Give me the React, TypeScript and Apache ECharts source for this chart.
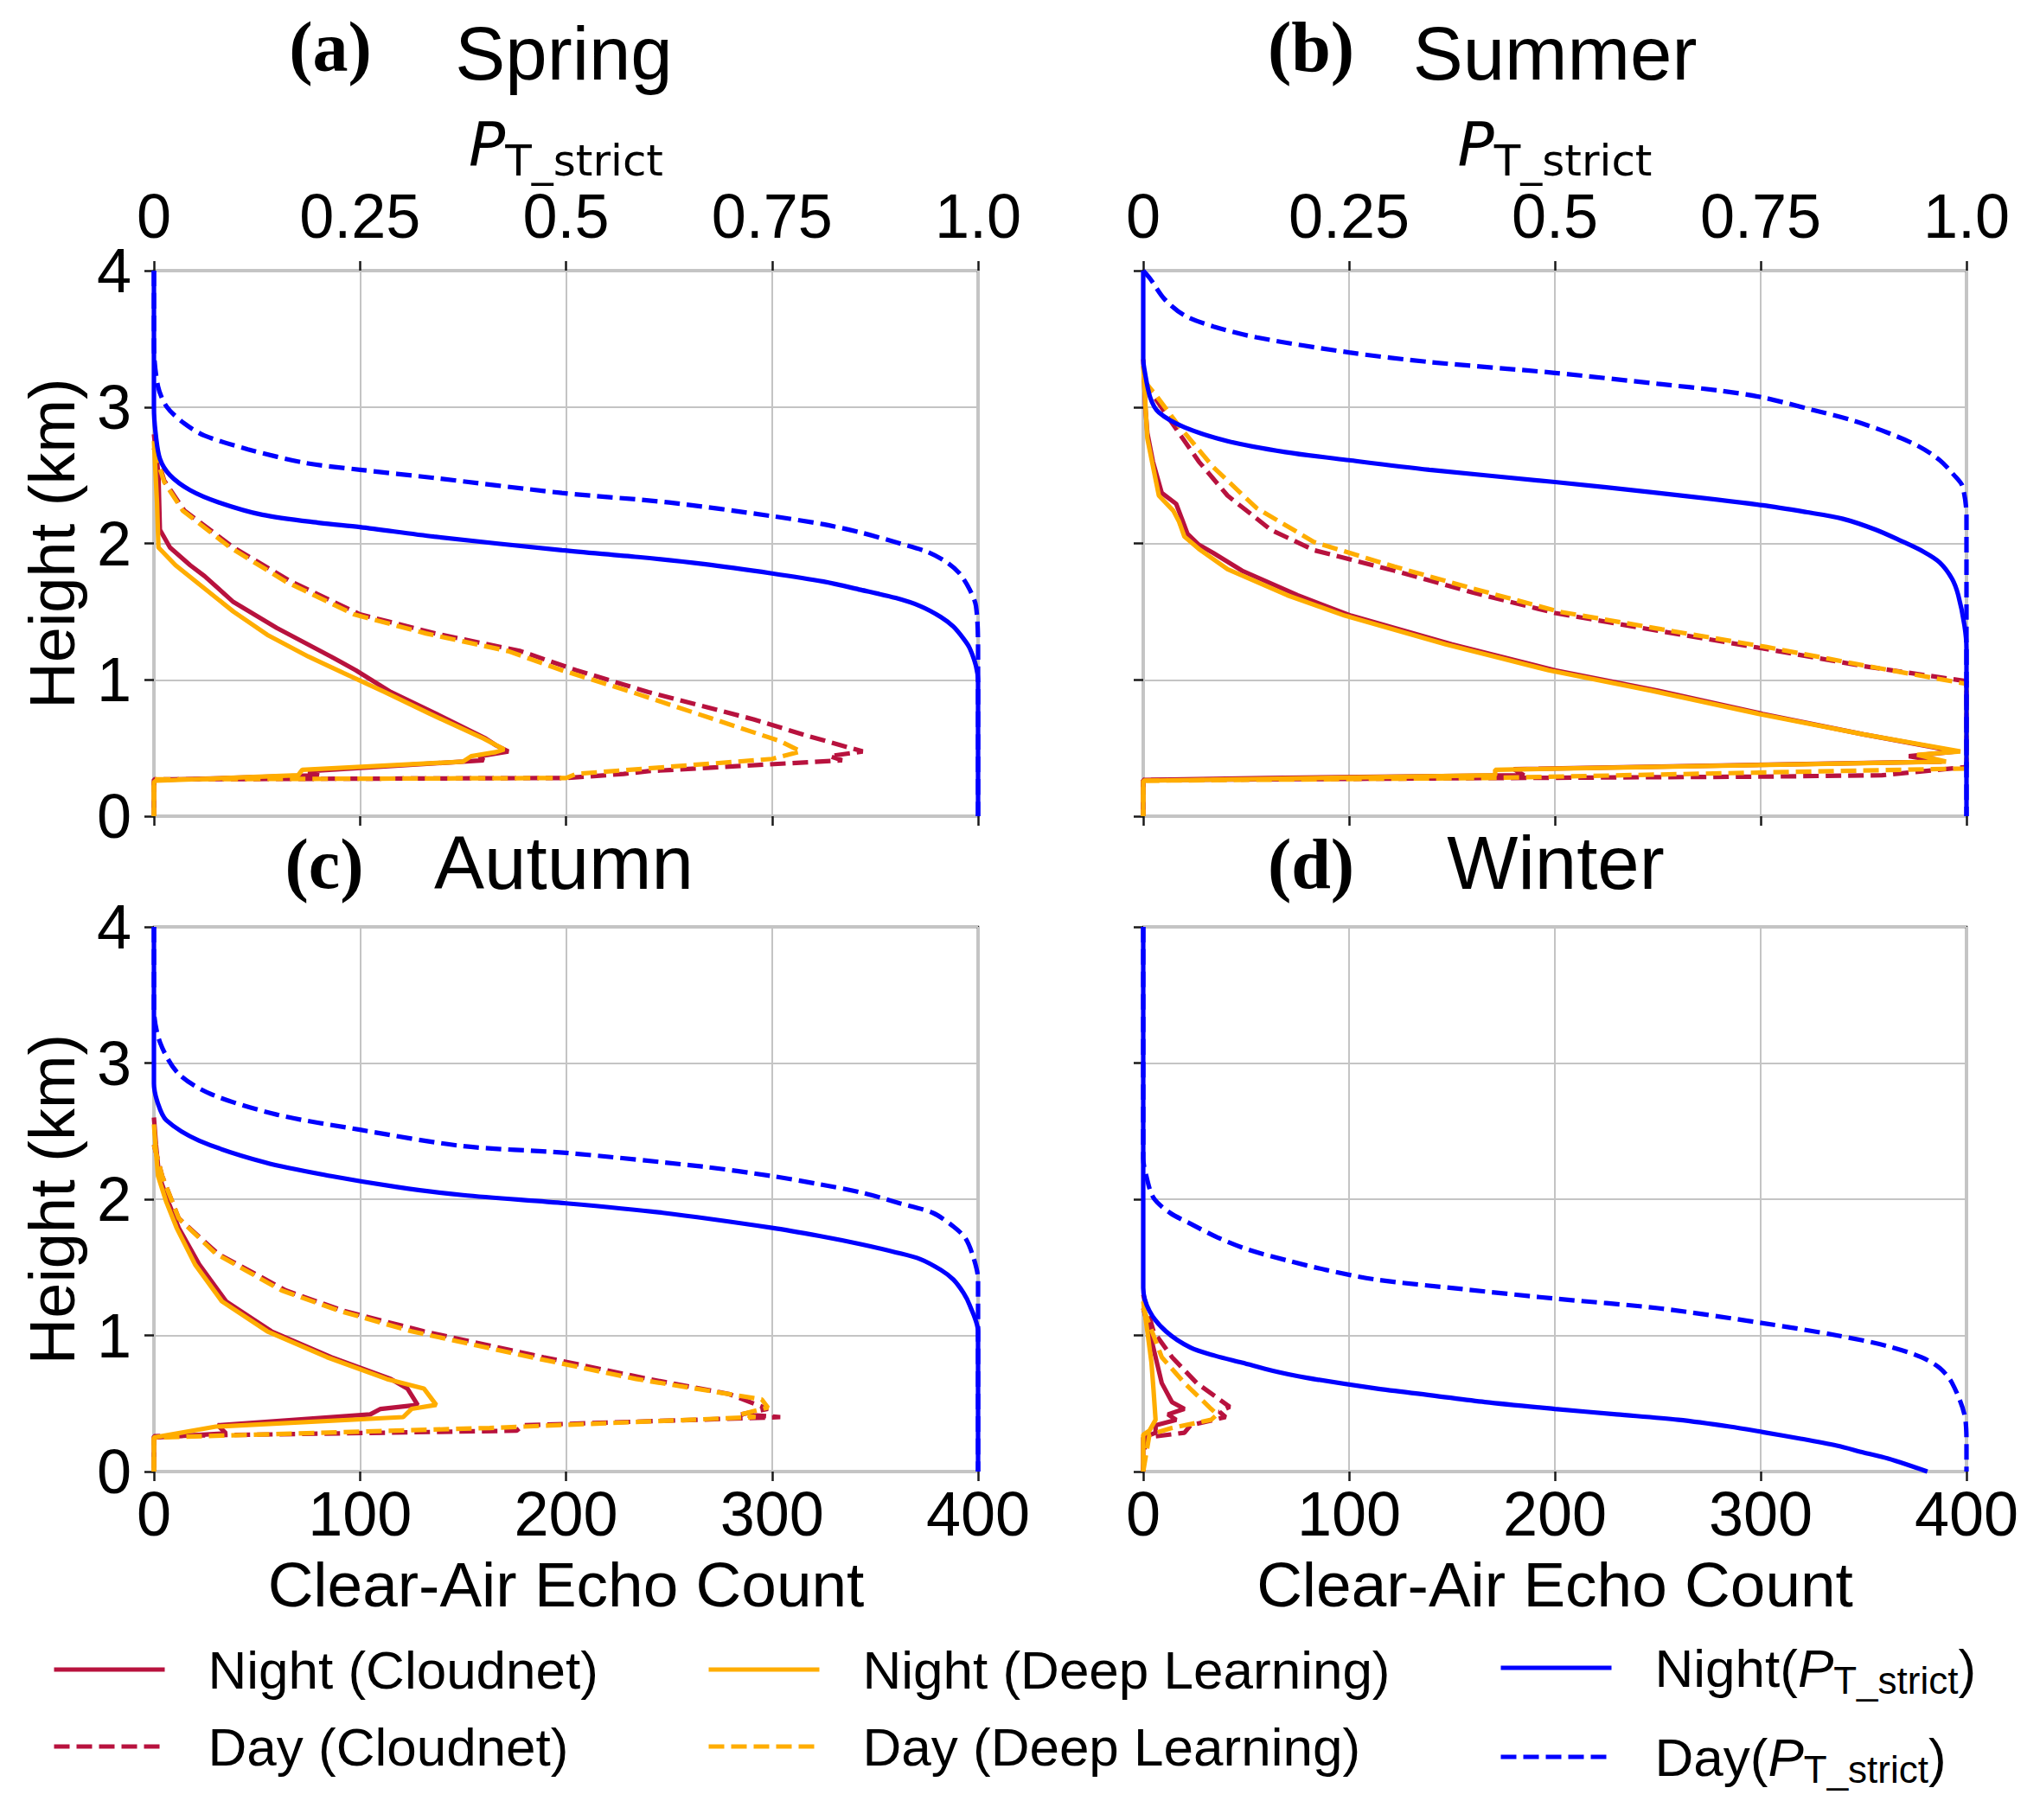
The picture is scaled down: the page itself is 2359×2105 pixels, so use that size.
import React, { useEffect, useRef } from 'react';
import * as echarts from 'echarts';

type Pt = [number, number]; // [clear-air echo count, height km]

// ---------- Tick labels ----------
const countTicks = [0, 100, 200, 300, 400];
const probTickLabels: Record<string, string> = { '0': '0', '0.25': '0.25', '0.5': '0.5', '0.75': '0.75', '1': '1.0' };
const heightTicks = [0, 1, 2, 3, 4];

// ---------- Series names ----------
const seriesNames = [
  'Night (Cloudnet)',
  'Day (Cloudnet)',
  'Night (Deep Learning)',
  'Day (Deep Learning)',
  'Night(PT_strict)',
  'Day(PT_strict)',
];

// ---------- (a) Spring ----------
const springNightCloudnet: Pt[] = [[0, 2.8], [1.5, 2.6], [2.2, 2.5], [2.9, 2.1], [7.8, 1.97], [17.6, 1.84], [24.6, 1.76], [38.6, 1.57], [59.6, 1.38], [86, 1.17], [98, 1.07], [115, 0.91], [137, 0.75], [161, 0.57], [166, 0.52], [172, 0.475], [158, 0.44], [160, 0.41], [150, 0.4], [75, 0.33], [80, 0.3], [1, 0.265], [0, 0.25], [0, 0]];
const springDayCloudnet: Pt[] = [[0, 2.7], [2.2, 2.6], [5, 2.46], [14.8, 2.24], [38.6, 1.97], [66.6, 1.72], [100, 1.48], [136.5, 1.34], [178, 1.21], [205, 1.07], [240, 0.91], [291, 0.71], [317, 0.59], [344, 0.475], [328, 0.44], [334, 0.41], [240, 0.33], [228, 0.31], [200, 0.28], [0, 0.27], [0, 0]];
const springNightDL: Pt[] = [[0, 2.75], [1.5, 2.3], [2.2, 1.97], [10.5, 1.84], [22, 1.7], [38.6, 1.5], [55, 1.33], [75, 1.17], [92, 1.05], [112, 0.91], [134, 0.75], [160, 0.57], [170, 0.49], [166, 0.47], [154, 0.44], [150, 0.4], [72, 0.34], [70, 0.3], [1, 0.26], [0, 0.25], [0, 0]];
const springDayDL: Pt[] = [[0, 2.7], [2.2, 2.58], [5, 2.45], [14, 2.24], [37, 1.97], [64, 1.72], [97, 1.48], [132, 1.34], [172, 1.21], [198, 1.07], [232, 0.91], [272, 0.71], [304, 0.55], [314, 0.475], [300, 0.42], [205, 0.31], [200, 0.28], [0, 0.27], [0, 0]];
const springNightP: Pt[] = [[0, 4], [0, 3.0], [0.8, 2.81], [2.9, 2.62], [7.8, 2.5], [17.6, 2.39], [31.6, 2.3], [52.6, 2.21], [80.6, 2.15], [100, 2.12], [136, 2.05], [198, 1.95], [235, 1.9], [266, 1.85], [300, 1.78], [325, 1.72], [343, 1.66], [360, 1.6], [372, 1.54], [382, 1.46], [388, 1.39], [393, 1.3], [396, 1.23], [399, 1.1], [400, 0.99], [400, 0]];
const springDayP: Pt[] = [[0, 4], [0, 3.45], [2, 3.15], [6.3, 3.0], [14.7, 2.88], [24.6, 2.79], [45.6, 2.69], [73.5, 2.59], [100, 2.54], [136, 2.48], [198, 2.37], [250, 2.3], [300, 2.2], [325, 2.14], [343, 2.08], [362, 2.0], [375, 1.94], [385, 1.86], [391, 1.78], [396, 1.66], [399, 1.54], [400, 1.23], [400, 0]];

// ---------- (b) Summer ----------
const summerNightCloudnet: Pt[] = [[0, 3.35], [1, 3.0], [2, 2.81], [4.7, 2.6], [9, 2.37], [16, 2.29], [18.8, 2.18], [21.5, 2.07], [27, 1.99], [34, 1.93], [48, 1.8], [75, 1.62], [101, 1.47], [150, 1.26], [200, 1.07], [250, 0.92], [301, 0.75], [350, 0.6], [395, 0.475], [372, 0.44], [388, 0.4], [180, 0.345], [185, 0.3], [60, 0.28], [0, 0.265], [0, 0]];
const summerDayCloudnet: Pt[] = [[0, 3.2], [4.7, 3.09], [13.2, 2.9], [27, 2.6], [41, 2.35], [62, 2.1], [83, 1.95], [122, 1.8], [160, 1.64], [200, 1.49], [250, 1.36], [301, 1.23], [350, 1.1], [400, 0.99], [400, 0.36], [359, 0.3], [300, 0.29], [178, 0.28], [0, 0.265], [0, 0]];
const summerNightDL: Pt[] = [[0, 3.3], [2, 2.77], [7.6, 2.35], [14.6, 2.24], [17.4, 2.16], [20, 2.05], [27, 1.96], [41, 1.81], [70, 1.62], [98, 1.47], [147, 1.26], [197, 1.07], [247, 0.92], [299, 0.75], [350, 0.6], [397, 0.475], [376, 0.45], [390, 0.4], [171, 0.34], [171, 0.3], [0, 0.26], [0, 0]];
const summerDayDL: Pt[] = [[0, 3.2], [6, 3.09], [17.4, 2.86], [34, 2.56], [55, 2.26], [83, 2.01], [122, 1.83], [160, 1.67], [202, 1.5], [252, 1.37], [303, 1.24], [352, 1.1], [400, 0.97], [400, 0.35], [166, 0.28], [0, 0.26], [0, 0]];
const summerNightP: Pt[] = [[0, 4], [0, 3.35], [0.5, 3.28], [3.4, 3.07], [7.6, 2.96], [20.2, 2.85], [41, 2.75], [69, 2.67], [100, 2.61], [139, 2.54], [200, 2.45], [250, 2.37], [301, 2.28], [322, 2.23], [340, 2.18], [356, 2.1], [368, 2.02], [379, 1.94], [387, 1.86], [393, 1.74], [396, 1.62], [399, 1.4], [400, 1.23], [400, 0]];
const summerDayP: Pt[] = [[0, 4], [3.4, 3.94], [10.4, 3.79], [20.2, 3.67], [34.2, 3.59], [55.2, 3.51], [100, 3.4], [139, 3.33], [200, 3.25], [250, 3.17], [280, 3.12], [301, 3.07], [325, 2.98], [345, 2.9], [362, 2.81], [377, 2.71], [387, 2.61], [394, 2.5], [398, 2.42], [400, 2.2], [400, 0]];

// ---------- (c) Autumn ----------
const autumnNightCloudnet: Pt[] = [[0, 2.6], [1, 2.4], [2.5, 2.17], [7, 1.98], [12, 1.79], [22, 1.52], [35, 1.25], [57, 1.03], [86, 0.84], [115, 0.68], [123, 0.61], [128, 0.49], [110, 0.46], [105, 0.42], [31, 0.34], [35, 0.28], [0, 0.25], [0, 0]];
const autumnDayCloudnet: Pt[] = [[0, 2.4], [4, 2.17], [12, 1.86], [31, 1.6], [64, 1.33], [92, 1.18], [131, 1.03], [189, 0.84], [240, 0.68], [279, 0.57], [298, 0.46], [285, 0.42], [304, 0.4], [179, 0.34], [176, 0.3], [0, 0.26], [0, 0]];
const autumnNightDL: Pt[] = [[0, 2.55], [1, 2.35], [2, 2.17], [6, 1.98], [11, 1.79], [20, 1.52], [33, 1.25], [55, 1.03], [84, 0.84], [113, 0.68], [131, 0.61], [137, 0.49], [125, 0.46], [121, 0.4], [30, 0.33], [0, 0.25], [0, 0]];
const autumnDayDL: Pt[] = [[0, 2.4], [4, 2.17], [12, 1.86], [30, 1.6], [62, 1.33], [90, 1.18], [125, 1.03], [183, 0.84], [234, 0.68], [295, 0.53], [298, 0.47], [285, 0.42], [292, 0.4], [163, 0.32], [0, 0.25], [0, 0]];
const autumnNightP: Pt[] = [[0, 4], [0, 2.85], [2, 2.7], [6, 2.58], [22, 2.43], [54, 2.27], [86, 2.17], [118, 2.09], [150, 2.03], [200, 1.97], [247, 1.9], [300, 1.79], [323, 1.73], [343, 1.67], [360, 1.61], [372, 1.56], [382, 1.48], [388, 1.41], [393, 1.31], [396, 1.22], [400, 1.03], [400, 0]];
const autumnDayP: Pt[] = [[0, 4], [0, 3.4], [3, 3.15], [12, 2.92], [28, 2.77], [60, 2.62], [100, 2.51], [150, 2.39], [200, 2.34], [266, 2.24], [300, 2.17], [323, 2.11], [343, 2.05], [362, 1.97], [378, 1.9], [388, 1.8], [394, 1.71], [398, 1.56], [400, 1.41], [400, 0]];

// ---------- (d) Winter ----------
const winterNightCloudnet: Pt[] = [[0, 1.2], [3, 1.03], [6, 0.84], [9, 0.65], [14, 0.51], [20, 0.46], [12, 0.42], [16, 0.38], [6, 0.34], [6, 0.285], [0, 0.25], [0, 0]];
const winterDayCloudnet: Pt[] = [[0, 1.3], [5, 1.03], [14, 0.84], [26, 0.65], [42, 0.475], [37, 0.44], [40, 0.4], [23, 0.34], [20, 0.285], [1, 0.25], [0, 0]];
const winterNightDL: Pt[] = [[0, 1.25], [2, 1.03], [4, 0.8], [5, 0.6], [6, 0.38], [3, 0.3], [0, 0.27], [0, 0]];
const winterDayDL: Pt[] = [[0, 1.2], [9, 0.84], [20, 0.65], [33, 0.46], [36, 0.42], [33, 0.38], [14, 0.32], [3, 0.27], [0, 0]];
const winterNightP: Pt[] = [[0, 4], [0, 1.35], [3, 1.18], [11, 1.03], [23, 0.91], [35, 0.85], [48, 0.8], [63, 0.74], [79, 0.69], [113, 0.61], [140, 0.56], [166, 0.51], [200, 0.46], [230, 0.42], [260, 0.38], [285, 0.33], [301, 0.29], [320, 0.24], [337, 0.19], [350, 0.14], [362, 0.095], [381, 0]];
const winterDayP: Pt[] = [[0, 4], [0, 2.3], [1.5, 2.17], [5, 2.01], [13, 1.9], [23, 1.82], [36, 1.72], [51, 1.63], [70, 1.55], [89, 1.48], [113, 1.41], [155, 1.34], [200, 1.27], [250, 1.2], [301, 1.09], [337, 1.0], [362, 0.92], [378, 0.84], [387, 0.76], [393, 0.65], [399, 0.42], [400, 0.2], [400, 0]];

const panels = [
  { tag: '(a)', title: 'Spring', curves: [springNightCloudnet, springDayCloudnet, springNightDL, springDayDL, springNightP, springDayP] },
  { tag: '(b)', title: 'Summer', curves: [summerNightCloudnet, summerDayCloudnet, summerNightDL, summerDayDL, summerNightP, summerDayP] },
  { tag: '(c)', title: 'Autumn', curves: [autumnNightCloudnet, autumnDayCloudnet, autumnNightDL, autumnDayDL, autumnNightP, autumnDayP] },
  { tag: '(d)', title: 'Winter', curves: [winterNightCloudnet, winterDayCloudnet, winterNightDL, winterDayDL, winterNightP, winterDayP] },
];

// ---------- Styles / layout ----------
const CRIMSON = '#B8123E';
const ORANGE = '#FFAD00';
const BLUE = '#0000FF';
const seriesColors = [CRIMSON, CRIMSON, ORANGE, ORANGE, BLUE, BLUE];
const seriesDashed = [false, true, false, true, false, true];
const SANS = 'Liberation Sans, Arial, sans-serif';
const SERIF = 'Liberation Serif, Times New Roman, serif';
const DEJAVU = 'DejaVu Sans, sans-serif';
const AXIS_COLOR = '#1a1a1a';
const GRID_COLOR = '#c4c4c4';
const LINE_W = 5.2;

const grids = [
  { left: 178, top: 313, width: 953, height: 631 },
  { left: 1322, top: 313, width: 952, height: 631 },
  { left: 178, top: 1072, width: 953, height: 630 },
  { left: 1322, top: 1072, width: 952, height: 630 },
];
const tagPos = [[382, 54], [1516, 54], [375, 999], [1516, 999]];
const titlePos = [[652, 61], [1798, 61], [652, 997], [1799, 997]];

function buildOption() {
  const xAxis: any[] = [];
  const yAxis: any[] = [];
  const series: any[] = [];
  const graphic: any[] = [];

  grids.forEach((g, i) => {
    xAxis.push({
      type: 'value', gridIndex: i, position: 'bottom', min: countTicks[0], max: countTicks[countTicks.length - 1], interval: 100,
      axisLine: { show: false },
      axisTick: { show: true, length: 11, lineStyle: { color: AXIS_COLOR, width: 2.5 } },
      axisLabel: { show: i >= 2, margin: 13, fontSize: 72, fontFamily: SANS, color: '#000' },
      splitLine: { show: true, lineStyle: { color: GRID_COLOR, width: 2 } },
    });
    yAxis.push({
      type: 'value', gridIndex: i, min: heightTicks[0], max: heightTicks[heightTicks.length - 1], interval: 1,
      axisLine: { show: false },
      axisTick: { show: true, length: 11, lineStyle: { color: AXIS_COLOR, width: 2.5 } },
      axisLabel: { show: i % 2 === 0, margin: 26, fontSize: 72, fontFamily: SANS, color: '#000' },
      splitLine: { show: true, lineStyle: { color: GRID_COLOR, width: 2 } },
    });
  });
  // top probability axes for (a) and (b)
  [0, 1].forEach((i) => {
    xAxis.push({
      type: 'value', gridIndex: i, position: 'top', min: 0, max: 1, interval: 0.25,
      axisLine: { show: false },
      axisTick: { show: true, length: 11, lineStyle: { color: AXIS_COLOR, width: 2.5 } },
      axisLabel: {
        show: true, margin: 27, fontSize: 72, fontFamily: SANS, color: '#000',
        formatter: (v: number) => probTickLabels[String(v)] ?? String(v),
      },
      splitLine: { show: false },
    });
  });

  panels.forEach((p, i) => {
    p.curves.forEach((data, k) => {
      const isBlue = k >= 4;
      series.push({
        type: 'line', name: seriesNames[k], xAxisIndex: i, yAxisIndex: i,
        data, showSymbol: false, symbol: 'none', clip: false,
        smooth: isBlue ? 0.3 : false,
        lineStyle: { color: seriesColors[k], width: LINE_W, type: seriesDashed[k] ? [18, 8] : 'solid' },
        itemStyle: { color: seriesColors[k] },
        emphasis: { disabled: true },
        silent: true,
      });
    });
    graphic.push({
      type: 'text', x: tagPos[i][0], y: tagPos[i][1],
      style: { text: p.tag, fontSize: 82, fontFamily: SERIF, fontWeight: 'bold', fill: '#000', align: 'center', verticalAlign: 'middle' },
    });
    graphic.push({
      type: 'text', x: titlePos[i][0], y: titlePos[i][1],
      style: { text: p.title, fontSize: 87, fontFamily: SANS, fill: '#000', align: 'center', verticalAlign: 'middle' },
    });
  });

  // axis titles
  [0, 2].forEach((i) => {
    const g = grids[i];
    graphic.push({
      type: 'text', x: 60, y: g.top + g.height / 2, rotation: Math.PI / 2,
      style: { text: 'Height (km)', fontSize: 74, fontFamily: SANS, fill: '#000', align: 'center', verticalAlign: 'middle' },
    });
  });
  [2, 3].forEach((i) => {
    const g = grids[i];
    graphic.push({
      type: 'text', x: g.left + g.width / 2, y: 1832,
      style: { text: 'Clear-Air Echo Count', fontSize: 73, fontFamily: SANS, fill: '#000', align: 'center', verticalAlign: 'middle' },
    });
  });
  [0, 1].forEach((i) => {
    const g = grids[i];
    graphic.push({
      type: 'text', x: g.left + g.width / 2, y: 167,
      style: {
        text: '{p|P}{s|T_strict}', align: 'center', verticalAlign: 'middle', fill: '#000',
        rich: {
          p: { fontSize: 70, fontStyle: 'italic', fontFamily: DEJAVU, fill: '#000', verticalAlign: 'middle' },
          s: { fontSize: 50, fontFamily: DEJAVU, fill: '#000', verticalAlign: 'middle', padding: [38, 0, 0, 0] },
        },
      },
    });
  });

  // legends
  const legendCols = [60, 817, 1733];
  const legendBase = {
    orient: 'horizontal', padding: 0, itemWidth: 128, itemHeight: 14, itemGap: 0, selectedMode: false,
    itemStyle: { opacity: 0 },
    lineStyle: { width: 5 },
    textStyle: { fontSize: 62, fontFamily: SANS, color: '#000', lineHeight: 70, padding: [0, 0, 0, 45] },
  };
  const richLegend = {
    n: { fontSize: 62, fontFamily: SANS, color: '#000', lineHeight: 70, verticalAlign: 'middle' },
    p: { fontSize: 62, fontFamily: SANS, fontStyle: 'italic', color: '#000', lineHeight: 70, verticalAlign: 'middle' },
    s: { fontSize: 44, fontFamily: SANS, color: '#000', verticalAlign: 'middle', padding: [28, 0, 0, 0] },
  };
  const legend: any[] = [
    { ...legendBase, data: [seriesNames[0]], left: legendCols[0], top: 1931 - 35 },
    { ...legendBase, data: [seriesNames[1]], left: legendCols[0], top: 2020 - 35 },
    { ...legendBase, data: [seriesNames[2]], left: legendCols[1], top: 1931 - 35 },
    { ...legendBase, data: [seriesNames[3]], left: legendCols[1], top: 2020 - 35 },
    {
      ...legendBase, data: [seriesNames[4]], left: legendCols[2], top: 1931 - 37,
      formatter: () => '{n|Night(}{p|P}{s|T_strict}{n|)}',
      textStyle: { ...legendBase.textStyle, rich: richLegend },
    },
    {
      ...legendBase, data: [seriesNames[5]], left: legendCols[2], top: 2034 - 37,
      formatter: () => '{n|Day(}{p|P}{s|T_strict}{n|)}',
      textStyle: { ...legendBase.textStyle, rich: richLegend },
    },
  ];

  return {
    animation: false,
    backgroundColor: '#ffffff',
    grid: grids.map((g) => ({ ...g, show: true, borderColor: AXIS_COLOR, borderWidth: 2.5, backgroundColor: 'transparent', containLabel: false })),
    xAxis, yAxis, series, legend, graphic,
  };
}

export default function App() {
  const ref = useRef<HTMLDivElement>(null);
  useEffect(() => {
    document.body.style.margin = '0';
    const chart = echarts.init(ref.current!, undefined, { renderer: 'svg' });
    chart.setOption(buildOption() as any);
    return () => chart.dispose();
  }, []);
  return <div ref={ref} style={{ width: 2359, height: 2105, background: '#fff' }} />;
}
